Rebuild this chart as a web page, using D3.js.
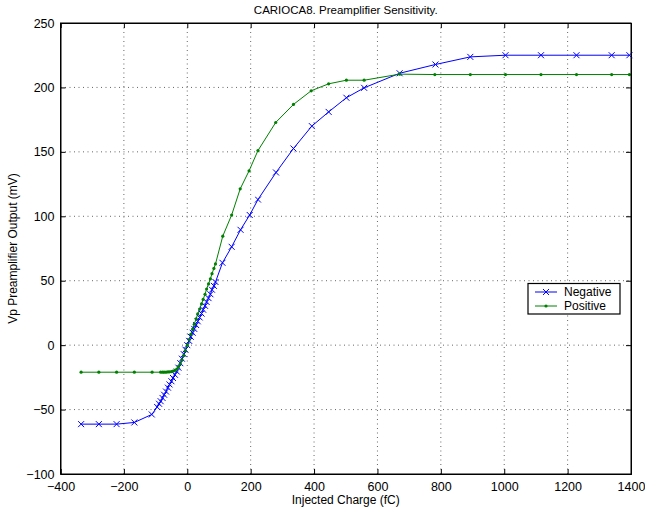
<!DOCTYPE html>
<html><head><meta charset="utf-8">
<script src="https://cdn.jsdelivr.net/npm/d3@7"></script>
<style>body{margin:0;background:#fff}svg{font-family:"Liberation Sans",Arial,sans-serif}</style>
</head><body>
<svg id="c" width="645" height="514"></svg>
<script>
const title = "CARIOCA8. Preamplifier Sensitivity.";
const xLabel = "Injected Charge (fC)";
const yLabel = "Vp Preamplifier Output (mV)";
const xTicks = [-400,-200,0,200,400,600,800,1000,1200,1400];
const yTicks = [-100,-50,0,50,100,150,200,250];
const seriesNames = ["Negative","Positive"];

const negX = [-335,-279,-223,-167,-112,-95,-89,-84,-78,-73,-67,-61,-56,-50,-45,-39,-33,-28,-22,-17,-11,-6,0,6,11,17,22,28,33,39,45,50,56,61,67,73,78,84,89,111,140,168,197,223,280,335,393,446,502,558,670,783,893,1004,1116,1228,1339,1395];
const negY = [-61.3,-61.3,-61.3,-60,-53.8,-48,-45.5,-43.5,-41,-38.5,-36,-33,-30.5,-28,-25.5,-23,-20.5,-17.5,-14,-10.5,-7,-3.5,0,3.3,6.5,9.6,12.6,15.6,18.5,21.5,24.5,27.5,30.5,33.5,36.5,39.5,43,46,49,63.9,76.3,89.5,101,113,134,152.6,170,181,192,199.7,211,217.8,223.7,225,225,225,225,225];

const posX = [-335,-279,-223,-167,-111,-84,-78,-73,-67,-61,-56,-50,-45,-39,-33,-28,-22,-17,-11,-6,0,6,11,17,22,28,33,39,45,50,56,61,67,73,78,84,89,112,140,167,195,223,279,335,391,446,502,558,670,781,893,1004,1116,1228,1339,1395];
const posY = [-21,-21,-21,-21,-21,-21,-21,-21,-21,-20.8,-20.7,-20.5,-20.2,-19.6,-18.5,-16.8,-14.5,-11.5,-8,-4.2,0,4.2,8.3,12.4,16.3,20.4,24.2,28,32,35.5,39.5,43.5,47.5,51.5,55.5,59.5,63,84.6,101,121.3,135.3,151,172.8,186.8,197.4,202.8,205.6,205.6,210.3,210,210,210,210,210,210,210];

const svg = d3.select("#c");
const L=60.5, R=631, T=23, B=474;
const x = d3.scaleLinear().domain([-400,1400]).range([L,R]);
const y = d3.scaleLinear().domain([-100,250]).range([B,T]);

// grid
const g = svg.append("g");
g.selectAll(".gx").data(xTicks.slice(1,-1)).join("line")
 .attr("x1",d=>x(d)).attr("x2",d=>x(d)).attr("y1",T).attr("y2",B)
 .attr("stroke","#666").attr("stroke-width",1).attr("stroke-dasharray","1,3.5");
g.selectAll(".gy").data(yTicks.slice(1,-1)).join("line")
 .attr("y1",d=>y(d)).attr("y2",d=>y(d)).attr("x1",L).attr("x2",R)
 .attr("stroke","#666").attr("stroke-width",1).attr("stroke-dasharray","1,3.5");

// axes
const fmt = d=> d<0 ? "\u2212"+Math.abs(d) : String(d);
svg.append("g").attr("transform",`translate(0,${B})`)
 .call(d3.axisBottom(x).tickValues(xTicks).tickSize(-5).tickPadding(8).tickFormat(fmt));
svg.append("g").attr("transform",`translate(${L},0)`)
 .call(d3.axisLeft(y).tickValues(yTicks).tickSize(-5).tickPadding(6).tickFormat(fmt));
svg.append("g").attr("transform",`translate(0,${T})`)
 .call(d3.axisTop(x).tickValues(xTicks).tickSize(-5).tickFormat(""));
svg.append("g").attr("transform",`translate(${R},0)`)
 .call(d3.axisRight(y).tickValues(yTicks).tickSize(-5).tickFormat(""));
svg.selectAll(".domain").attr("stroke","#000").attr("stroke-width",1);
svg.selectAll(".tick line").attr("stroke","#000");
svg.selectAll(".tick text").attr("font-size",12.5).attr("fill","#000").attr("font-family","Liberation Sans, Arial, sans-serif");

const line = d3.line().x(d=>x(d[0])).y(d=>y(d[1]));
const negData = negX.map((v,i)=>[v,negY[i]]);
const posData = posX.map((v,i)=>[v,posY[i]]);

const plot = svg.append("g");
plot.append("path").datum(negData).attr("d",line).attr("fill","none").attr("stroke","#0000ff").attr("stroke-width",1);
plot.append("path").datum(posData).attr("d",line).attr("fill","none").attr("stroke","#008000").attr("stroke-width",1);
const s=3;
plot.selectAll(".mx").data(negData).join("path")
 .attr("d",d=>`M${x(d[0])-s},${y(d[1])-s}L${x(d[0])+s},${y(d[1])+s}M${x(d[0])-s},${y(d[1])+s}L${x(d[0])+s},${y(d[1])-s}`)
 .attr("stroke","#0000ff").attr("stroke-width",1);
plot.selectAll(".md").data(posData).join("circle")
 .attr("cx",d=>x(d[0])).attr("cy",d=>y(d[1])).attr("r",1.6).attr("fill","#008000");

// frame
svg.append("rect").attr("x",L).attr("y",T).attr("width",R-L).attr("height",B-T).attr("fill","none").attr("stroke","#000");

// texts
svg.append("text").attr("x",(L+R)/2).attr("y",14).attr("text-anchor","middle").attr("font-size",11.5).text(title);
svg.append("text").attr("x",(L+R)/2).attr("y",504).attr("text-anchor","middle").attr("font-size",12).text(xLabel);
svg.append("text").attr("transform",`translate(17,${(T+B)/2}) rotate(-90)`).attr("text-anchor","middle").attr("font-size",12).text(yLabel);

// legend
const lg = svg.append("g");
lg.append("rect").attr("x",528).attr("y",283.5).attr("width",92).attr("height",30.5).attr("fill","#fff").attr("stroke","#000").attr("stroke-width",1.2);
const lx1=535, lx2=557, ly=[292,306];
lg.append("line").attr("x1",lx1).attr("x2",lx2).attr("y1",ly[0]).attr("y2",ly[0]).attr("stroke","#0000ff");
lg.append("path").attr("d",`M${(lx1+lx2)/2-s},${ly[0]-s}L${(lx1+lx2)/2+s},${ly[0]+s}M${(lx1+lx2)/2-s},${ly[0]+s}L${(lx1+lx2)/2+s},${ly[0]-s}`).attr("stroke","#0000ff");
lg.append("line").attr("x1",lx1).attr("x2",lx2).attr("y1",ly[1]).attr("y2",ly[1]).attr("stroke","#008000");
lg.append("circle").attr("cx",(lx1+lx2)/2).attr("cy",ly[1]).attr("r",1.6).attr("fill","#008000");
lg.selectAll(".lt").data(seriesNames).join("text").attr("x",564).attr("y",(d,i)=>ly[i]+4.3).attr("font-size",12).text(d=>d);
</script>
</body></html>
